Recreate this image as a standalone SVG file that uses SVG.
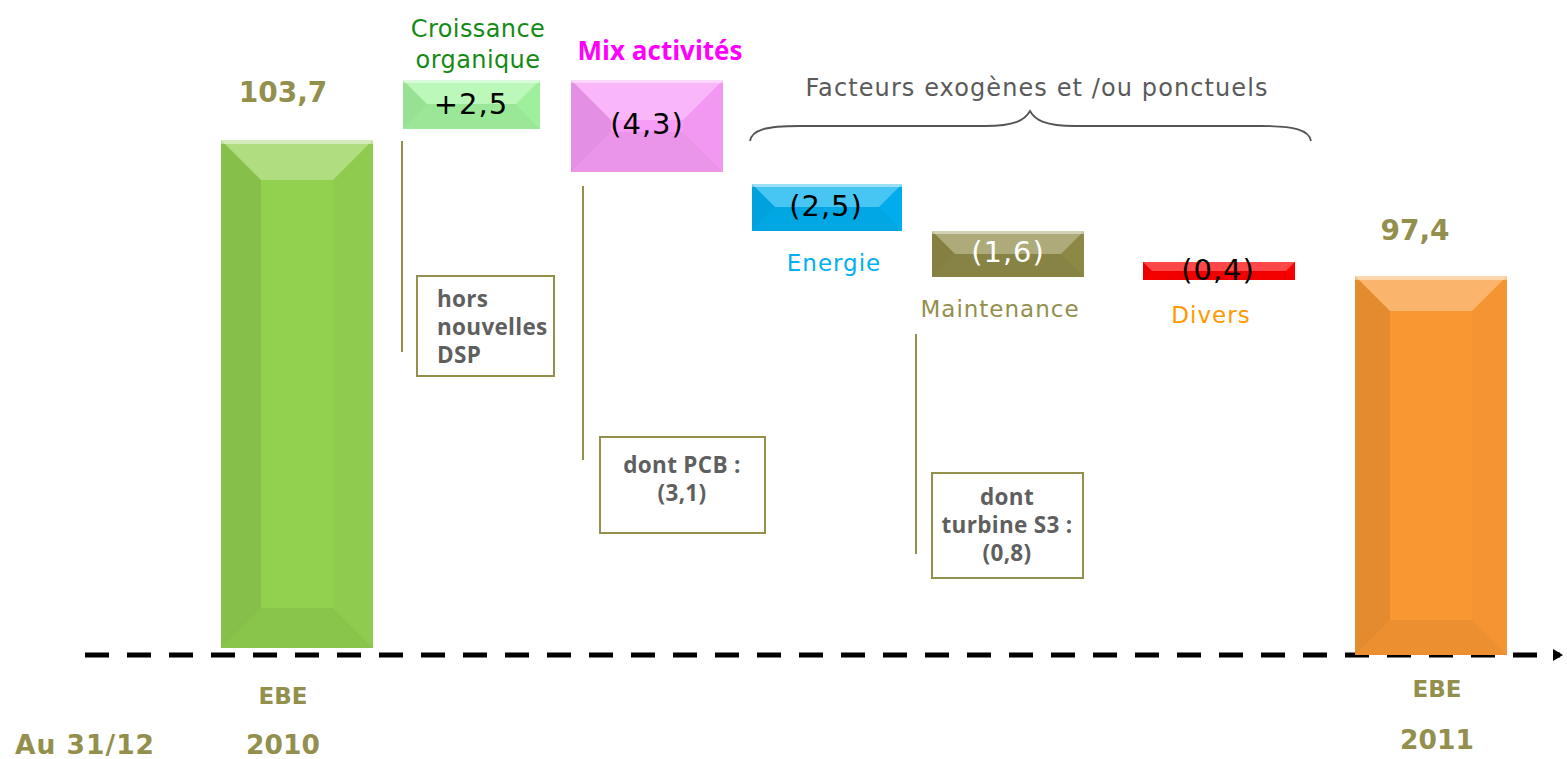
<svg xmlns="http://www.w3.org/2000/svg" width="1567" height="759" viewBox="0 0 1567 759">
<defs>
<style>
.t{font-family:"DejaVu Sans","Open Sans",sans-serif}
.bn{font-family:"DejaVu Sans",sans-serif;font-weight:bold;fill:#938f4d;text-anchor:middle}
.ob{font-family:"Open Sans","DejaVu Sans",sans-serif;font-weight:bold}
.val{font-size:29px;fill:#000;text-anchor:middle;letter-spacing:1px}
.lbl{font-size:23px;text-anchor:middle;letter-spacing:1px}
.note{font-size:22.5px;fill:#5f5f5f;letter-spacing:0.3px}
.sL{fill:#000;opacity:0.08}
.sR{fill:#000;opacity:0.02}
.sT{fill:#fff;opacity:0.28}
.sB{fill:#000;opacity:0.05}
.hl{fill:#fff;opacity:0.45}
.vline{stroke:#938f4d;stroke-width:2;fill:none}
.nbox{fill:#fff;stroke:#938f4d;stroke-width:2}
</style>
<marker id="arr" markerWidth="10" markerHeight="12" refX="7" refY="6" orient="auto" markerUnits="userSpaceOnUse">
<path d="M0,0 L10,6 L0,12 z" fill="#000"/>
</marker>
</defs>
<rect width="1567" height="759" fill="#fff"/>

<g id="connectors">
<line x1="85" y1="655" x2="1560" y2="655" stroke="#000" stroke-width="5" stroke-dasharray="24,18" marker-end="url(#arr)"/>
<line class="vline" x1="402" y1="141" x2="402" y2="352"/>
<line class="vline" x1="583" y1="186" x2="583" y2="460"/>
<line class="vline" x1="916" y1="334" x2="916" y2="554"/>
<path d="M750,141 C752,130 765,126 800,126 L985,126 C1015,126 1025,120 1030,111 C1035,120 1045,126 1075,126 L1260,126 C1295,126 1309,130 1311,141" fill="none" stroke="#555" stroke-width="1.8"/>
</g>

<g id="bar2010">
<rect x="221" y="140" width="152" height="508" fill="#92d050"/>
<polygon class="sL" points="221,140 261,180 261,608 221,648"/>
<polygon class="sR" points="373,140 333,180 333,608 373,648"/>
<polygon class="sT" points="221,140 373,140 333,180 261,180"/>
<polygon class="sB" points="221,648 373,648 333,608 261,608"/>
<rect class="hl" x="221" y="140" width="152" height="4"/>
<text class="bn" x="283" y="102" font-size="28">103,7</text>
<text class="bn" x="283" y="704" font-size="23">EBE</text>
<text class="bn" x="283" y="754" font-size="26.5">2010</text>
</g>

<g id="axis-label">
<text class="bn" x="15" y="754" font-size="26.5" style="text-anchor:start;letter-spacing:1px">Au 31/12</text>
</g>

<g id="croissance">
<rect x="403" y="80" width="137" height="49" fill="#a3f5a0"/>
<polygon class="sL" points="403,80 427,104 403,129"/>
<polygon class="sR" points="540,80 516,104 540,129"/>
<polygon class="sT" points="403,80 540,80 516,104 427,104"/>
<polygon class="sB" points="403,129 540,129 516,104 427,104"/>
<rect class="hl" x="403" y="80" width="137" height="3"/>
<text class="t" x="478" y="37" font-size="24" fill="#168a16" text-anchor="middle" letter-spacing="0.4">Croissance</text>
<text class="t" x="478" y="68" font-size="24" fill="#168a16" text-anchor="middle" letter-spacing="0.4">organique</text>
<text class="t val" x="471" y="114">+2,5</text>
</g>

<g id="hors-dsp">
<rect class="nbox" x="417" y="276" width="137" height="100"/>
<text class="ob note" x="437" y="307">hors</text>
<text class="ob note" x="437" y="335">nouvelles</text>
<text class="ob note" x="437" y="363">DSP</text>
</g>

<g id="mix">
<rect x="571" y="80" width="152" height="92" fill="#f79cf7"/>
<polygon class="sL" points="571,80 611,120 611,132 571,172"/>
<polygon class="sR" points="723,80 683,120 683,132 723,172"/>
<polygon class="sT" points="571,80 723,80 683,120 611,120"/>
<polygon class="sB" points="571,172 723,172 683,132 611,132"/>
<rect class="hl" x="571" y="80" width="152" height="3"/>
<text class="ob" x="660" y="60" font-size="26" fill="#ff00ff" text-anchor="middle">Mix activités</text>
<text class="t val" x="647" y="134" font-size="30">(4,3)</text>
</g>

<g id="pcb">
<rect class="nbox" x="600" y="437" width="165" height="96"/>
<text class="ob note" x="682" y="473" text-anchor="middle">dont PCB :</text>
<text class="ob note" x="682" y="501" text-anchor="middle">(3,1)</text>
</g>

<g id="factors-label">
<text class="t" x="1037" y="96" font-size="24" fill="#5a5a5a" text-anchor="middle" letter-spacing="1.1">Facteurs exogènes et /ou ponctuels</text>
</g>

<g id="energie">
<rect x="752" y="184" width="150" height="47" fill="#00b0f0"/>
<polygon class="sL" points="752,184 775,207 752,231"/>
<polygon class="sR" points="902,184 879,207 902,231"/>
<polygon class="sT" points="752,184 902,184 879,207 775,207"/>
<polygon class="sB" points="752,231 902,231 879,207 775,207"/>
<rect class="hl" x="752" y="184" width="150" height="3"/>
<text class="t val" x="826" y="216" font-size="30">(2,5)</text>
<text class="t lbl" x="834" y="271" fill="#00b0f0">Energie</text>
</g>

<g id="maintenance">
<rect x="932" y="231" width="152" height="46" fill="#8f8b48"/>
<polygon class="sL" points="932,231 955,254 932,277"/>
<polygon class="sR" points="1084,231 1061,254 1084,277"/>
<polygon class="sT" points="932,231 1084,231 1061,254 955,254"/>
<polygon class="sB" points="932,277 1084,277 1061,254 955,254"/>
<rect class="hl" x="932" y="231" width="152" height="3"/>
<text class="t val" x="1008" y="262" font-size="30" style="fill:#fff">(1,6)</text>
<text class="t lbl" x="1000" y="317" fill="#938f4d">Maintenance</text>
</g>

<g id="turbine">
<rect class="nbox" x="932" y="473" width="151" height="105"/>
<text class="ob note" x="1007" y="505" text-anchor="middle">dont</text>
<text class="ob note" x="1007" y="533" text-anchor="middle">turbine S3 :</text>
<text class="ob note" x="1007" y="561" text-anchor="middle">(0,8)</text>
</g>

<g id="divers">
<rect x="1143" y="262" width="152" height="18" fill="#ff0000"/>
<polygon class="sL" points="1143,262 1152,271 1143,280"/>
<polygon class="sR" points="1295,262 1286,271 1295,280"/>
<polygon class="sT" points="1143,262 1295,262 1286,271 1152,271"/>
<polygon class="sB" points="1143,280 1295,280 1286,271 1152,271"/>
<text class="t val" x="1218" y="280" font-size="30">(0,4)</text>
<text class="t lbl" x="1211" y="323" fill="#ff9900">Divers</text>
</g>

<g id="bar2011">
<rect x="1355" y="276" width="152" height="379" fill="#f99733"/>
<polygon class="sL" points="1355,276 1390,311 1390,620 1355,655"/>
<polygon class="sR" points="1507,276 1472,311 1472,620 1507,655"/>
<polygon class="sT" points="1355,276 1507,276 1472,311 1390,311"/>
<polygon class="sB" points="1355,655 1507,655 1472,620 1390,620"/>
<rect class="hl" x="1355" y="276" width="152" height="4"/>
<text class="bn" x="1415" y="240" font-size="28">97,4</text>
<text class="bn" x="1437" y="697" font-size="23">EBE</text>
<text class="bn" x="1437" y="749" font-size="26.5">2011</text>
</g>
</svg>
